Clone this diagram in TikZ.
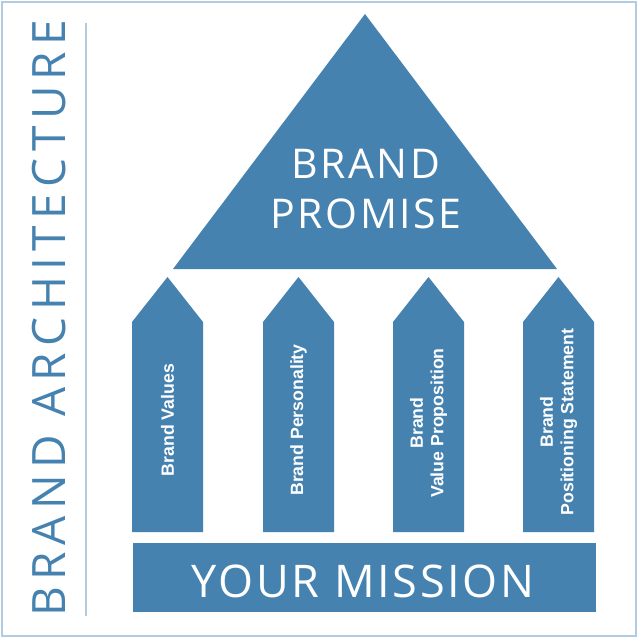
\documentclass[tikz,border=0pt]{standalone}
\usepackage{fontspec}
\setmainfont{Liberation Sans}
\newfontfamily\titlefont[LetterSpace=6]{Open Sans}
\newfontfamily\sidefont[LetterSpace=14]{Open Sans}
\definecolor{brandblue}{HTML}{4682B0}
\definecolor{frameblue}{HTML}{B3CBDF}
\tikzset{
  blk/.style={fill=brandblue, draw=none},
  pilltext/.style={rotate=90, text=white, font=\fontsize{17.7}{20.5}\selectfont\bfseries, align=center, inner sep=0pt},
  bigtext/.style={text=white, align=center, inner sep=0pt},
}
\begin{document}
\begin{tikzpicture}[x=1pt,y=-1pt]
\useasboundingbox (0,0) rectangle (639,639);
\fill[white] (0,0) rectangle (639,639);
\draw[frameblue, line width=1.5pt] (2,2) rectangle (636,636);
\draw[frameblue, line width=1.5pt] (86,23) -- (86,616);
\node[rotate=90, text=brandblue, inner sep=0pt, font=\sidefont\fontsize{46}{46}\selectfont] (side) at (49,318) {BRAND ARCHITECTURE};
% triangle
\fill[blk] (365,14) -- (557,269) -- (173,269) -- cycle;
\node[bigtext, font=\titlefont\fontsize{41}{50}\selectfont] (promise) at (366,189) {BRAND\\PROMISE};
% pillars
\foreach \x/\n in {132/a,263/b,393/c,523/d}{
  \fill[blk] (\x,532) -- (\x,322) -- (\x+35.5,277) -- (\x+71,322) -- (\x+71,532) -- cycle;
}
\node[pilltext] (p1) at (167.5,420) {Brand Values};
\node[pilltext] (p2) at (298.5,420) {Brand Personality};
\node[pilltext] (p3) at (428.5,423) {Brand\\Value Proposition};
\node[pilltext] (p4) at (558.5,422) {Brand\\Positioning Statement};
% mission
\fill[blk] (133,543) rectangle (596,612);
\node[bigtext, font=\titlefont\fontsize{45}{50}\selectfont] (mission) at (363,581) {YOUR MISSION};
\end{tikzpicture}
\end{document}
